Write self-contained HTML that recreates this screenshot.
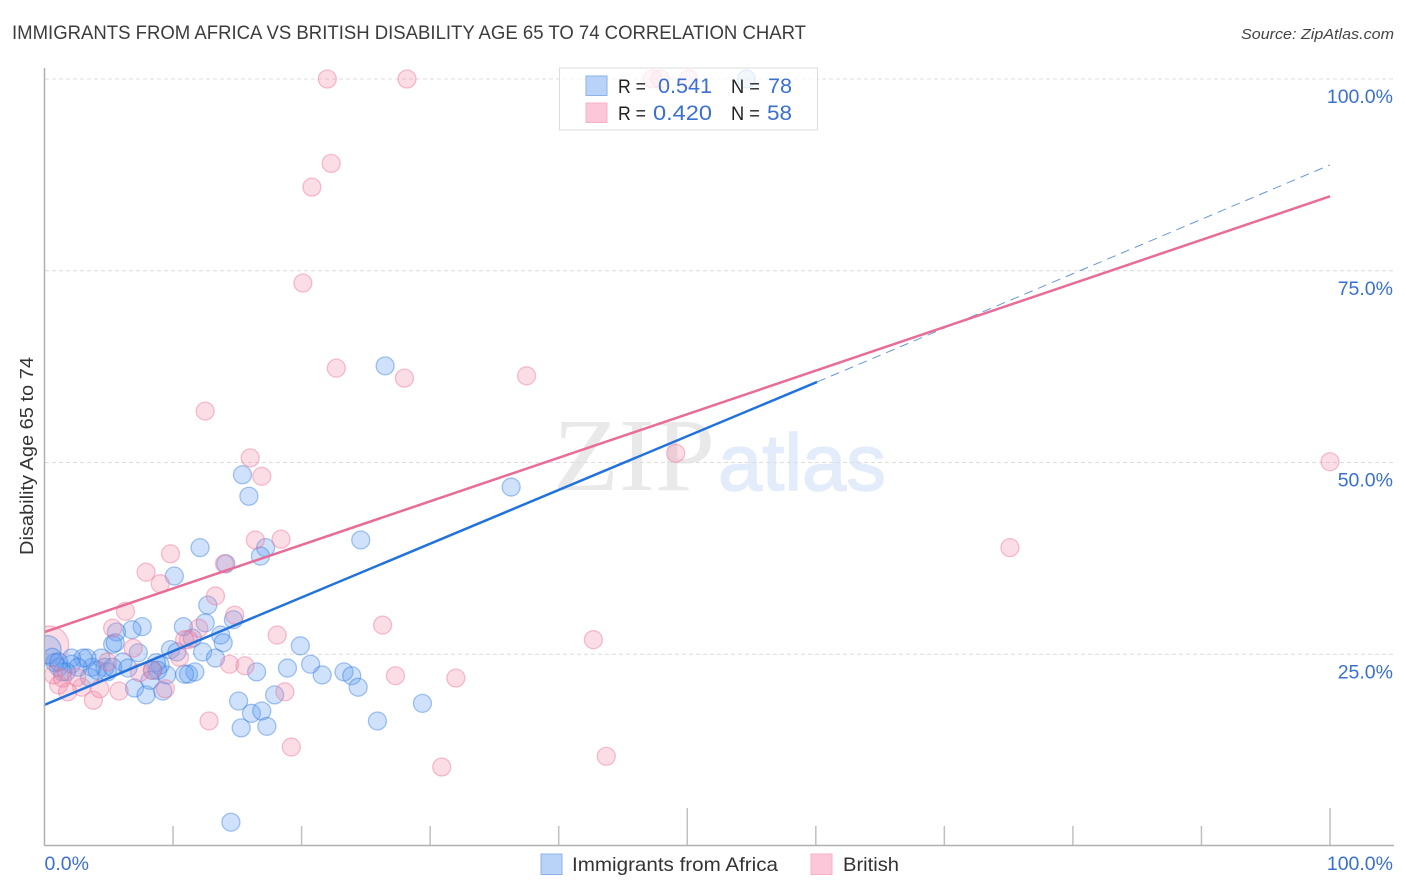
<!DOCTYPE html>
<html lang="en">
<head>
<meta charset="utf-8">
<title>Immigrants from Africa vs British Disability Age 65 to 74 Correlation Chart</title>
<style>
html,body{margin:0;padding:0;background:#fff;}
svg{display:block;font-family:"Liberation Sans",sans-serif;}
</style>
</head>
<body>
<svg id="chart" width="1406" height="892" viewBox="0 0 1406 892" xmlns="http://www.w3.org/2000/svg">
  <defs>
    <clipPath id="plot-clip"><rect x="45" y="60" width="1349" height="785"></rect></clipPath>
  </defs>
  <rect x="0" y="0" width="1406" height="892" fill="#ffffff"></rect>
  <text x="12" y="39" font-size="19" fill="#3c3c3c" textLength="794" lengthAdjust="spacingAndGlyphs">IMMIGRANTS FROM AFRICA VS BRITISH DISABILITY AGE 65 TO 74 CORRELATION CHART</text>
  <text x="1241" y="39" font-size="15" font-style="italic" fill="#444444" textLength="153" lengthAdjust="spacingAndGlyphs">Source: ZipAtlas.com</text>
  <g>
    <text x="553" y="490" font-family="'Liberation Serif',serif" font-size="104" fill="#e9e9e9" textLength="162" lengthAdjust="spacingAndGlyphs">ZIP</text>
    <text x="718" y="490" font-size="80" fill="#e3ecfa" stroke="#e3ecfa" stroke-width="1.5" textLength="168" lengthAdjust="spacingAndGlyphs">atlas</text>
  </g>
  <g id="grid"></g>
  <g id="points" clip-path="url(#plot-clip)"></g>
  <g id="trends"></g>
  <g id="axes"></g>
  <text transform="translate(33,555) rotate(-90)" font-size="18.5" fill="#333333" textLength="198" lengthAdjust="spacingAndGlyphs">Disability Age 65 to 74</text>
  <g>
    <rect x="559.5" y="68" width="258" height="62" fill="#ffffff" fill-opacity="0.72" stroke="#dddddd" stroke-width="1"></rect>
    <rect x="586" y="76" width="21" height="19.5" fill="#b9d3f8" stroke="#8bb3ea" stroke-width="1"></rect>
    <rect x="586" y="103" width="21" height="19.5" fill="#fcc8d9" stroke="#f6b0c6" stroke-width="1"></rect>
    <text x="618" y="93" font-size="19" fill="#222222" textLength="28" lengthAdjust="spacingAndGlyphs">R =</text>
    <text x="658" y="93" font-size="21" fill="#3a70d2" textLength="54" lengthAdjust="spacingAndGlyphs">0.541</text>
    <text x="731" y="93" font-size="19" fill="#222222" textLength="29" lengthAdjust="spacingAndGlyphs">N =</text>
    <text x="768" y="93" font-size="21" fill="#3a70d2" textLength="24" lengthAdjust="spacingAndGlyphs">78</text>
    <text x="618" y="120" font-size="19" fill="#222222" textLength="28" lengthAdjust="spacingAndGlyphs">R =</text>
    <text x="653" y="120" font-size="21" fill="#3a70d2" textLength="59" lengthAdjust="spacingAndGlyphs">0.420</text>
    <text x="731" y="120" font-size="19" fill="#222222" textLength="29" lengthAdjust="spacingAndGlyphs">N =</text>
    <text x="767" y="120" font-size="21" fill="#3a70d2" textLength="25" lengthAdjust="spacingAndGlyphs">58</text>
  </g>
  <g>
    <rect x="541" y="854" width="21" height="20.5" fill="#b9d3f8" stroke="#8bb3ea" stroke-width="1"></rect>
    <text x="572" y="871" font-size="19.5" fill="#333333" textLength="206" lengthAdjust="spacingAndGlyphs">Immigrants from Africa</text>
    <rect x="811" y="854" width="21" height="20.5" fill="#fcc8d9" stroke="#f6b0c6" stroke-width="1"></rect>
    <text x="843" y="871" font-size="19.5" fill="#333333" textLength="56" lengthAdjust="spacingAndGlyphs">British</text>
  </g>
</svg>
<script>
const blueX = [26.5,36.3,15.4,15.9,24.6,12.1,17.2,16.8,14.1,10.1,12.7,14.7,7.6,6.8,5.6,10.8,12.5,5.3,5.5,13.7,11.5,13.9,19.9,7.3,9.8,10.3,12.3,13.3,20.7,18.9,23.3,16.5,21.6,23.9,24.4,11.7,11.2,10.9,9.5,9.0,8.7,8.8,8.4,6.1,6.5,4.4,4.7,3.7,3.3,3.0,2.1,2.1,2.6,1.1,1.4,0.8,0.6,7.0,7.9,9.2,8.2,15.1,16.1,16.9,17.9,15.3,17.3,25.9,29.4,14.5,54.6,3.5,1.7,4.1,4.9,5.3,1.1];
const blueY = [62.6,46.8,48.4,45.6,39.9,38.9,38.9,37.8,36.8,35.2,31.4,29.5,28.6,28.2,27.9,28.6,29.1,26.3,26.5,27.5,27.1,26.5,26.1,25.2,25.6,25.3,25.3,24.5,23.7,23.2,22.7,22.7,22.3,22.2,20.7,22.7,22.4,22.4,22.3,23.6,23.9,22.9,22.9,24.0,23.2,24.5,23.3,23.3,24.5,24.5,24.5,23.7,23.3,23.3,22.7,23.9,24.6,20.6,19.7,20.2,21.6,18.9,17.3,17.6,19.7,15.4,15.6,16.3,18.6,3.1,100,22.0,22.7,22.9,22.7,23.3,24.0];
const blueLargeX = [0.2];
const blueLargeY = [25.6];
const pinkX = [22.0,28.2,47.3,47.9,50.1,22.3,20.8,20.1,22.7,28.0,37.5,12.5,16.0,49.1,100,16.9,16.4,18.4,75.1,9.8,7.9,14.0,9.0,13.3,6.3,14.8,42.7,26.3,18.1,5.3,12.0,11.2,10.9,6.9,10.5,14.4,15.6,27.3,32.0,4.9,8.4,7.4,3.8,5.8,4.3,2.9,1.8,1.1,9.4,18.7,12.8,19.2,30.9,43.7,0.7,1.4,2.5];
const pinkY = [100,100,100,100,100,89.0,85.9,73.4,62.3,61.0,61.3,56.7,50.6,51.2,50.1,48.2,39.9,40.0,38.9,38.1,35.7,36.8,34.2,32.6,30.6,30.1,26.9,28.8,27.5,28.4,28.4,26.9,26.9,25.8,24.6,23.7,23.5,22.2,21.9,24.0,22.9,22.6,19.0,20.2,20.5,20.7,20.1,21.0,20.5,20.1,16.3,12.9,10.3,11.7,22.3,21.9,22.0];
const pinkLargeX = [0.4];
const pinkLargeY = [26.2];
const blueTrendX = [0, 60.1];
const blueTrendY = [18.4, 60.5];
const blueExtendX = [60.1, 100];
const blueExtendY = [60.5, 88.8];
const pinkTrendX = [0, 100];
const pinkTrendY = [27.9, 84.7];
const yGridValues = [100, 75, 50, 25];
const yTickLabels = ["100.0%", "75.0%", "50.0%", "25.0%"];
const xTickValues = [0, 10, 20, 30, 40, 50, 60, 70, 80, 90, 100];
const xMajorTicks = [50, 100];
const xEndValues = [0, 100];
const xEndLabels = ["0.0%", "100.0%"];

const SVGNS = "http://www.w3.org/2000/svg";
function xScale(v) { return 44.5 + v * 12.855; }
function yScale(v) { return 846 - v * 7.67; }
function make(tag, attrs, parent) {
  const el = document.createElementNS(SVGNS, tag);
  for (const k in attrs) el.setAttribute(k, attrs[k]);
  parent.appendChild(el);
  return el;
}

const grid = document.getElementById("grid");
const axes = document.getElementById("axes");
const points = document.getElementById("points");
const trends = document.getElementById("trends");

yGridValues.forEach(function (v, i) {
  const line = make("line", {x1: 45, x2: 1394, y1: yScale(v), y2: yScale(v), stroke: "#dcdcdc", "stroke-width": 1, "stroke-dasharray": "4 3"}, grid);
  
  
  const label = make("text", {x: 1393, y: yScale(v) + 24, "text-anchor": "end", "font-size": 19.5, fill: "#3a70d2"}, axes);
  
  
  label.textContent = yTickLabels[i];
});

const yAxis = make("line", {x1: 44.5, x2: 44.5, y1: 68, y2: 846, stroke: "#b0b0b0", "stroke-width": 1.5}, axes);


const xAxis = make("line", {x1: 44, x2: 1394, y1: 845.5, y2: 845.5, stroke: "#b0b0b0", "stroke-width": 1.5}, axes);



xTickValues.forEach(function (v) {
  if (v === 0) return;
  const top = xMajorTicks.indexOf(v) >= 0 ? 808 : 826;
  const tick = make("line", {x1: xScale(v), x2: xScale(v), y1: top, y2: 845, stroke: "#c0c0c0", "stroke-width": 1.5}, axes);
  
  
});

xEndValues.forEach(function (v, i) {
  const isEnd = i === xEndValues.length - 1;
  const label = make("text", {x: isEnd ? 1393 : xScale(v), y: 870, "text-anchor": isEnd ? "end" : "start", "font-size": 19.5, fill: "#3a70d2"}, axes);
  
  
  label.textContent = xEndLabels[i];
});

function drawSeries(xs, ys, r, fill, stroke) {
  xs.forEach(function (x, i) {
    const c = make("circle", {cx: xScale(x), cy: yScale(ys[i]), r: r, fill: fill, "fill-opacity": 0.29, stroke: stroke, "stroke-opacity": 0.42, "stroke-width": 1.3}, points);
    
    
  });
}
drawSeries(pinkLargeX, pinkLargeY, 19, "#f28aa8", "#ec6d96");
drawSeries(blueLargeX, blueLargeY, 14, "#5c9cf0", "#2f78dc");
drawSeries(blueX, blueY, 9, "#5c9cf0", "#2f78dc");
drawSeries(pinkX, pinkY, 9, "#f28aa8", "#ec6d96");

function drawLine(xs, ys, attrs, name) {
  const line = make("line", Object.assign({x1: xScale(xs[0]), y1: yScale(ys[0]), x2: xScale(xs[1]), y2: yScale(ys[1])}, attrs), trends);
  
  
}
drawLine(blueExtendX, blueExtendY, {stroke: "#6a96d4", "stroke-width": 1, "stroke-dasharray": "9 6"}, "africa-trend-extension");
drawLine(blueTrendX, blueTrendY, {stroke: "#2272dc", "stroke-width": 2.5}, "africa-trend-line");
drawLine(pinkTrendX, pinkTrendY, {stroke: "#e86c98", "stroke-width": 2.5}, "british-trend-line");
</script>
</body>
</html>
